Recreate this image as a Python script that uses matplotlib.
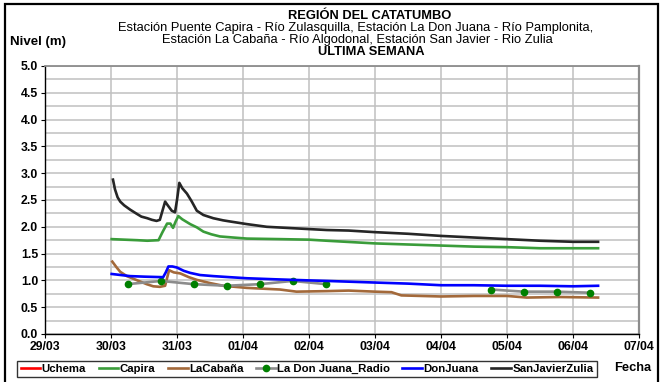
import numpy as np
import matplotlib
matplotlib.use("Agg")
import matplotlib.pyplot as plt
from matplotlib.patches import Rectangle

plt.rcParams['font.family'] = ['Liberation Sans', 'DejaVu Sans']

# x values: days since 29/03 00:00
date_labels = ["29/03", "30/03", "31/03", "01/04", "02/04", "03/04", "04/04", "05/04", "06/04", "07/04"]

uchema_t = []
uchema_v = []

capira_t = [1.01, 1.2, 1.4, 1.55, 1.72, 1.78, 1.85, 1.90, 1.94, 1.98, 2.02, 2.08, 2.20, 2.30, 2.40,
            2.52, 2.65, 2.85, 3.06, 3.56, 4.0, 4.27, 5.0, 5.5, 6.0, 6.5, 7.0, 7.5, 8.0, 8.38]
capira_v = [1.77, 1.76, 1.75, 1.74, 1.75, 1.90, 2.06, 2.06, 1.98, 2.10, 2.20, 2.14, 2.05, 1.99, 1.91,
            1.86, 1.82, 1.80, 1.78, 1.77, 1.76, 1.74, 1.69, 1.67, 1.65, 1.63, 1.62, 1.60, 1.60, 1.60]

cabana_t = [1.02, 1.08, 1.14, 1.24, 1.34, 1.44, 1.54, 1.64, 1.74, 1.82, 1.88, 1.95, 2.05, 2.18, 2.30,
            2.50, 2.70, 3.06, 3.56, 3.81, 4.27, 4.6, 5.0, 5.25, 5.40, 6.0, 6.5, 7.0, 7.3, 7.8, 8.38]
cabana_v = [1.35, 1.25, 1.16, 1.08, 1.03, 0.98, 0.93, 0.89, 0.88, 0.90, 1.19, 1.15, 1.13, 1.06, 1.01,
            0.95, 0.90, 0.86, 0.83, 0.79, 0.80, 0.81, 0.79, 0.78, 0.72, 0.70, 0.71, 0.71, 0.68, 0.69, 0.68]

radio_t = [1.25, 1.76, 2.25, 2.75, 3.26, 3.75, 4.26, 5.5, 6.76, 7.25, 7.75, 8.26]
radio_v = [0.93, 0.99, 0.93, 0.90, 0.93, 0.99, 0.93, np.nan, 0.83, 0.79, 0.79, 0.77]

donjuana_t = [1.01, 1.15, 1.29, 1.50, 1.79, 1.83, 1.87, 1.93, 2.00, 2.10, 2.20, 2.35, 2.55, 2.80,
              3.06, 3.5, 4.0, 4.27, 5.0, 5.5, 6.0, 6.5, 7.0, 7.5, 8.0, 8.38]
donjuana_v = [1.12, 1.10, 1.08, 1.07, 1.06, 1.15, 1.26, 1.26, 1.24, 1.18, 1.14, 1.10, 1.08, 1.06,
              1.04, 1.02, 1.00, 0.99, 0.96, 0.94, 0.91, 0.91, 0.90, 0.90, 0.89, 0.90]

sanjavier_t = [1.03, 1.06, 1.10, 1.14, 1.20, 1.29, 1.38, 1.46, 1.55, 1.62, 1.69, 1.74, 1.78, 1.82,
               1.86, 1.92, 1.97, 2.00, 2.035, 2.08, 2.15, 2.22, 2.30, 2.40, 2.55, 2.70, 2.80, 3.06,
               3.36, 3.81, 4.27, 4.6, 5.0, 5.5, 6.0, 6.5, 7.0, 7.5, 8.0, 8.38]
sanjavier_v = [2.88, 2.70, 2.55, 2.47, 2.40, 2.32, 2.25, 2.19, 2.16, 2.13, 2.11, 2.13, 2.30, 2.47,
               2.40, 2.30, 2.27, 2.50, 2.82, 2.72, 2.62, 2.48, 2.30, 2.22, 2.16, 2.12, 2.10, 2.05,
               2.00, 1.97, 1.94, 1.93, 1.90, 1.87, 1.83, 1.80, 1.77, 1.74, 1.72, 1.72]

W, H = 661, 382
fig = plt.figure(figsize=(W / 100, H / 100), dpi=100)

def fx(px):
    return px / W

def fy(py):
    return 1 - py / H

ax = fig.add_axes([fx(45), fy(334), fx(639) - fx(45), fy(66) - fy(334)])

lw = 1.9
ax.plot(uchema_t, uchema_v, color='#ff0000', lw=lw, label='Uchema')
ax.plot(capira_t, capira_v, color='#3a9c3a', lw=lw, label='Capira')
ax.plot(cabana_t, cabana_v, color='#a3693a', lw=lw, label='LaCabaña')
ax.plot(radio_t, radio_v, color='#8c8c8c', lw=lw, marker='o', ms=4.5,
        mfc='#008000', mec='#008000', label='La Don Juana_Radio')
ax.plot(donjuana_t, donjuana_v, color='#0000ff', lw=lw, label='DonJuana')
ax.plot(sanjavier_t, sanjavier_v, color='#262626', lw=lw, label='SanJavierZulia')

ax.set_xlim(0, 9)
ax.set_ylim(0, 5)
ax.set_xticks(range(len(date_labels)))
ax.set_xticklabels(date_labels)
ax.set_yticks(np.arange(0, 5.01, 0.5))
ax.set_yticklabels([f"{v:.1f}" for v in np.arange(0, 5.01, 0.5)])
ax.set_yticks(np.arange(0, 5.01, 0.25), minor=True)
ax.tick_params(axis='y', which='minor', length=0)
ax.grid(True, which='both', axis='y', color='#c0c0c0', lw=1.1)
ax.grid(True, which='major', axis='x', color='#c0c0c0', lw=1.1)
ax.set_axisbelow(True)
for lbl in ax.get_xticklabels() + ax.get_yticklabels():
    lbl.set_fontweight('bold')
    lbl.set_fontsize(8.8)
ax.tick_params(axis='both', which='major', direction='out', length=3, width=0.8, color='black', pad=2)
ax.spines['left'].set_color('black')
ax.spines['bottom'].set_color('black')
ax.spines['left'].set_linewidth(1.0)
ax.spines['bottom'].set_linewidth(1.0)
ax.spines['top'].set_color('#8c8c8c')
ax.spines['right'].set_color('#8c8c8c')
ax.spines['top'].set_linewidth(1.3)
ax.spines['right'].set_linewidth(1.6)

# outer frame
fig.patches.append(Rectangle((fx(5), fy(400)), fx(658) - fx(5), fy(4) - fy(400),
                             transform=fig.transFigure, fill=False, ec='black', lw=1.6))

fs_t = 9.3
fig.text(fx(370), fy(16), "REGIÓN DEL CATATUMBO", ha='center', va='center', fontsize=fs_t, fontweight='bold')
fig.text(fx(356), fy(28), "Estación Puente Capira - Río Zulasquilla, Estación La Don Juana - Río Pamplonita,",
         ha='center', va='center', fontsize=fs_t)
fig.text(fx(357), fy(40), "Estación La Cabaña - Río Algodonal, Estación San Javier - Rio Zulia",
         ha='center', va='center', fontsize=fs_t)
fig.text(fx(371), fy(52), "ULTIMA SEMANA", ha='center', va='center', fontsize=fs_t, fontweight='bold')
fig.text(fx(10), fy(42), "Nivel (m)", ha='left', va='center', fontsize=9.5, fontweight='bold')
fig.text(fx(633), fy(368), "Fecha", ha='center', va='center', fontsize=9.3, fontweight='bold')

leg = fig.legend(loc='center', bbox_to_anchor=(fx(307), fy(369)),
                 ncol=6, frameon=True, fancybox=False, edgecolor='black',
                 prop={'size': 8.2, 'weight': 'bold'}, handlelength=1.75, handletextpad=0.1,
                 borderaxespad=0, borderpad=0.3, columnspacing=1.1)
leg.get_frame().set_linewidth(1.0)

fig.savefig('out.png', dpi=100)
